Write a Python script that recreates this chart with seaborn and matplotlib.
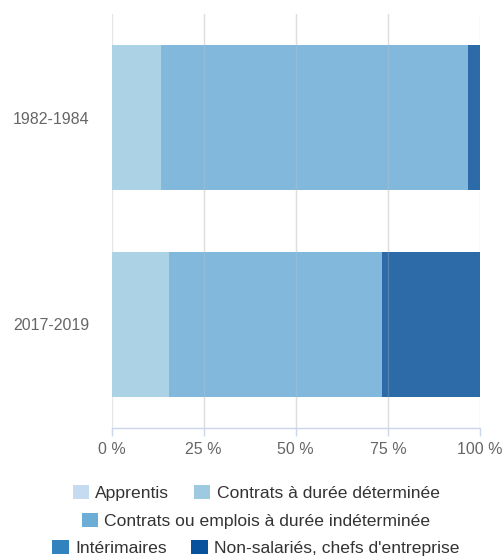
import matplotlib
matplotlib.use("Agg")
import matplotlib.pyplot as plt
import matplotlib.patches as mpatches
import seaborn as sns
import pandas as pd
import numpy as np

periods = ["1982-1984", "2017-2019"]
series = ["Apprentis", "Contrats à durée déterminée",
          "Contrats ou emplois à durée indéterminée",
          "Intérimaires", "Non-salariés, chefs d'entreprise"]
apprentis = [0.0, 0.0]
cdd = [13.3, 15.7]
cdi = [83.4, 57.7]
interimaires = [0.0, 0.0]
non_salaries = [3.3, 26.6]
values = [apprentis, cdd, cdi, interimaires, non_salaries]

legend_colors = ["#c6dbef", "#9ecae1", "#6baed6", "#3182bd", "#08519c"]
bar_colors = ["#cedff0", "#acd2e5", "#82b8dc", "#5094c7", "#2d6aa8"]
xticks = [0, 25, 50, 75, 100]
xticklabels = ["0 %", "25 %", "50 %", "75 %", "100 %"]

sns.set_theme(style="white")
plt.rcParams['font.family'] = ['Liberation Sans', 'DejaVu Sans']

fig = plt.figure(figsize=(5.04, 5.56), dpi=100)
ax = fig.add_axes([111.5/504, 1-428/556, 368.5/504, 414/556])

cum = np.cumsum(np.array(values), axis=0)
rows = []
for i, s in enumerate(series):
    for j, p in enumerate(periods):
        rows.append({"period": p, "series": s, "cum": cum[i, j]})
df = pd.DataFrame(rows)

for i in reversed(range(len(series))):
    sub = df[df["series"] == series[i]]
    sns.barplot(data=sub, x="cum", y="period", order=periods, color=bar_colors[i],
                saturation=1, width=0.7, orient="h", errorbar=None, ax=ax,
                linewidth=0, zorder=2)

ax.set_xlim(0, 100)
ax.set_ylim(1.5, -0.5)
ax.set_xticks(xticks)
ax.set_xticklabels(xticklabels)
ax.set_xlabel("")
ax.set_ylabel("")
ax.grid(axis="x", color="#e6e6e6", linewidth=1, zorder=0)
ax.set_axisbelow(True)
# faint gridlines showing through the semi-transparent bars
for xv in xticks[1:-1]:
    ax.axvline(xv, color="#c8c8c8", linewidth=1, alpha=0.25, zorder=3)
for sp in ["top", "right", "left"]:
    ax.spines[sp].set_visible(False)
ax.spines["bottom"].set_color("#ccd6eb")
ax.spines["bottom"].set_linewidth(1)
ax.tick_params(axis="x", length=6, width=1, color="#ccd6eb", labelsize=11.5,
               labelcolor="#666666", pad=4, bottom=True)
ax.tick_params(axis="y", length=0, labelsize=11.5, labelcolor="#666666", pad=16)

handles = [mpatches.Patch(facecolor=c, edgecolor="none") for c in legend_colors]
rows_leg = [[0, 1], [2], [3, 4]]
ys = [493, 521, 548]
for r, y in zip(rows_leg, ys):
    leg = fig.legend([handles[k] for k in r], [series[k] for k in r],
                     loc="center", bbox_to_anchor=(0.508, 1 - y/556), ncol=len(r),
                     frameon=False, fontsize=12.6, handlelength=0.95, handleheight=0.85,
                     handletextpad=0.35, columnspacing=1.4, borderpad=0,
                     labelcolor="#333333")

fig.savefig("out.png", dpi=100)
